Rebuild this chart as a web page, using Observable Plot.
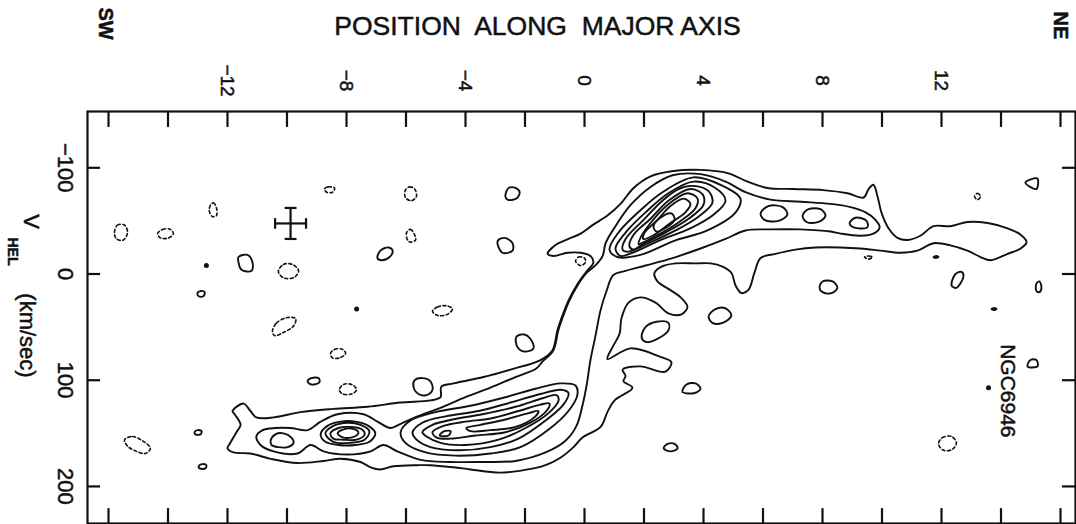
<!DOCTYPE html>
<html><head><meta charset="utf-8">
<script src="https://cdn.jsdelivr.net/npm/d3@7"></script>
<script src="https://cdn.jsdelivr.net/npm/@observablehq/plot@0.6"></script>
<style>
html,body{margin:0;padding:0;background:#fff;}
#chart{width:1076px;height:524px;overflow:hidden}
svg{display:block}
g[aria-label="vel-labels"] text{letter-spacing:2px}
g[aria-label="pos-labels"] text{letter-spacing:1px}
g[aria-label="kms"] text{letter-spacing:4px}
g[aria-label="hel"] text{letter-spacing:2px}
g[aria-label="title"] text{letter-spacing:0.3px}
</style></head><body><div id="chart"></div>
<script>
// ---- axes ----
const positionTicks = [-16,-14,-12,-10,-8,-6,-4,-2,0,2,4,6,8,10,12,14,16];
const positionLabels = [-12,-8,-4,0,4,8,12];
const velocityTicks = [-100,0,100,200];
const posDomain = [-16.706, 16.504];
const velDomain = [-153, 234.9];

// ---- contours: [position along major axis, V_hel km/s] ----
const outerContour = [[-1.24,-19],[-0.94,-28],[-0.54,-33],[-0.13,-38],[0.27,-46],[0.77,-55],[1.21,-66],[1.65,-81],[2.22,-92],[2.99,-97],[3.90,-98],[4.81,-95],[5.48,-87],[6.15,-81],[7.03,-80],[8.03,-79],[8.84,-76],[9.38,-72],[9.55,-80],[9.71,-84],[9.85,-73],[9.98,-58],[10.22,-43],[10.52,-34],[10.86,-32],[11.29,-36],[11.73,-45],[12.30,-45],[12.87,-49],[13.55,-48],[14.22,-43],[14.66,-37],[14.86,-30],[14.66,-24],[14.22,-19],[13.65,-13],[13.31,-16],[12.87,-22],[12.30,-27],[11.73,-29],[11.19,-22],[10.62,-20],[9.95,-22],[9.28,-24],[8.61,-25],[7.76,-25],[7.09,-23],[6.42,-19],[5.92,-15],[5.71,-1],[5.51,15],[5.28,18],[5.08,11],[4.94,-1],[4.64,-7],[4.24,-10],[3.73,-10],[3.06,-10],[2.59,-7],[2.35,-1],[2.45,7],[2.82,14],[3.23,22],[3.46,31],[3.26,38],[2.82,37],[2.39,27],[1.88,22],[1.48,27],[1.24,42],[1.18,56],[0.94,69],[0.77,80],[1.55,70],[2.55,78],[2.92,83],[2.72,92],[1.88,87],[1.28,90],[1.38,96],[1.31,101],[1.61,107],[1.01,119],[0.77,130],[0.54,144],[-0.07,154],[-0.37,163],[-0.81,173],[-1.31,180],[-1.71,183],[-2.82,187],[-3.83,184],[-4.40,182],[-5.18,180],[-5.61,180],[-6.42,181],[-6.86,184],[-7.19,182],[-7.53,177],[-8.20,174],[-8.77,176],[-9.65,178],[-10.55,174],[-11.23,169],[-11.80,168],[-12.00,164],[-11.93,160],[-11.70,149],[-11.56,142],[-11.76,132],[-11.83,129],[-11.46,122],[-11.23,129],[-11.03,135],[-10.45,135],[-9.55,130],[-8.44,127],[-7.29,125],[-6.18,121],[-5.18,119],[-4.84,116],[-4.81,106],[-4.40,103],[-3.39,97],[-2.49,90],[-1.48,81],[-1.08,72],[-0.91,53],[-0.74,39],[-0.54,25],[-0.27,11],[0.03,-1],[0.30,-11],[0.20,-17],[-0.13,-20],[-0.57,-20],[-1.04,-17]];

const level2Contour = [[0.61,-17],[0.71,-29],[1.04,-45],[1.55,-65],[2.22,-82],[2.96,-93],[3.90,-94],[4.74,-87],[5.41,-77],[6.25,-70],[7.26,-68],[8.27,-66],[8.94,-63],[9.45,-58],[9.78,-51],[9.92,-44],[9.71,-38],[9.28,-36],[8.61,-38],[8.27,-40],[7.26,-42],[6.25,-42],[5.41,-41],[4.74,-33],[3.90,-24],[2.96,-15],[2.05,-8],[1.38,-3],[0.97,1],[0.74,16],[0.54,34],[0.37,58],[0.20,81],[0.07,105],[-0.07,124],[-0.27,143],[-0.64,157],[-1.31,168],[-2.32,176],[-3.50,177],[-4.50,177],[-5.51,175],[-6.29,167],[-6.76,161],[-7.19,167],[-7.97,170],[-8.77,167],[-9.21,161],[-9.65,169],[-10.45,167],[-10.89,161],[-11.03,153],[-10.82,147],[-10.39,145],[-9.88,145],[-9.31,147],[-8.87,139],[-8.30,132],[-7.43,132],[-6.96,139],[-6.52,145],[-6.18,141],[-5.61,134],[-4.84,126],[-4.00,116],[-3.16,107],[-2.32,97],[-1.62,89],[-1.40,82],[-1.05,72],[-0.88,53],[-0.71,39],[-0.51,25],[-0.24,11],[0.07,-1],[0.40,-9]];

const upperRing3 = [[3.66,-91],[4.57,-84],[5.24,-71],[5.08,-58],[4.13,-41],[2.99,-31],[1.88,-18],[1.11,-16],[0.84,-23],[1.14,-39],[1.88,-60],[2.62,-77]];
const upperRing4 = [[3.66,-87],[4.40,-81],[4.74,-69],[4.30,-55],[3.56,-43],[2.55,-32],[1.61,-20],[1.21,-17],[1.04,-24],[1.38,-39],[2.05,-58],[2.82,-76]];
const upperRing5 = [[3.63,-83],[4.17,-78],[4.30,-67],[3.83,-54],[3.06,-41],[2.15,-29],[1.45,-21],[1.28,-23],[1.38,-33],[1.95,-50],[2.62,-69],[3.16,-80]];
const upperRing6 = [[3.56,-80],[3.97,-75],[4.00,-65],[3.50,-52],[2.72,-39],[1.95,-28],[1.65,-23],[1.51,-26],[1.65,-37],[2.22,-52],[2.82,-69]];
const upperRing7 = [[3.46,-76],[3.80,-71],[3.73,-62],[3.23,-50],[2.55,-38],[1.92,-29],[1.82,-28],[1.88,-34],[2.22,-48],[2.79,-65]];
const upperRing8 = [[3.33,-71],[3.56,-66],[3.39,-58],[2.89,-48],[2.29,-36],[1.98,-33],[2.02,-39],[2.42,-50],[2.89,-64]];
const upperRing9 = [[2.92,-57],[3.03,-51],[2.76,-44],[2.42,-40],[2.32,-45],[2.55,-53]];

const tailIsland1 = [[5.92,-57],[6.18,-64],[6.66,-63],[6.82,-56],[6.52,-50],[6.05,-51]];
const tailIsland2 = [[7.33,-55],[7.53,-61],[7.93,-61],[8.10,-55],[7.87,-49],[7.46,-49]];
const tailIsland3 = [[8.91,-48],[9.11,-53],[9.48,-50],[9.51,-44],[9.21,-43],[8.97,-45]];

const lowerA3 = [[-10.55,157],[-10.39,151],[-10.12,150],[-9.85,154],[-9.78,159],[-9.98,163],[-10.29,163],[-10.52,161]];
const lowerB3 = [[-8.87,151],[-8.64,143],[-8.20,139],[-7.70,139],[-7.26,143],[-7.03,150],[-7.23,158],[-7.70,161],[-8.27,161],[-8.71,158]];
const lowerB4 = [[-8.71,150],[-8.44,143],[-7.97,140],[-7.53,142],[-7.23,148],[-7.39,156],[-7.90,159],[-8.44,158]];
const lowerB5 = [[-8.54,150],[-8.27,145],[-7.87,144],[-7.50,146],[-7.39,151],[-7.66,156],[-8.10,156],[-8.44,155]];
const lowerB6 = [[-8.30,150],[-8.07,146],[-7.76,146],[-7.60,149],[-7.73,153],[-8.10,154]];
const lowerC3 = [[-6.18,149],[-5.85,138],[-5.01,130],[-3.83,124],[-2.66,116],[-1.65,108],[-0.81,103],[-0.30,105],[-0.24,114],[-0.54,129],[-1.14,145],[-2.15,163],[-3.16,169],[-4.34,171],[-5.34,168],[-6.02,159]];
const lowerC4 = [[-5.78,149],[-5.45,140],[-4.67,134],[-3.56,129],[-2.49,121],[-1.48,113],[-0.81,109],[-0.54,112],[-0.71,123],[-1.31,138],[-2.22,155],[-3.16,163],[-4.24,166],[-5.18,163],[-5.68,155]];
const lowerC5 = [[-5.45,149],[-5.11,142],[-4.44,137],[-3.43,132],[-2.32,125],[-1.41,117],[-0.94,114],[-0.87,119],[-1.21,131],[-1.98,145],[-2.89,156],[-4.00,161],[-4.84,159],[-5.31,153]];
const lowerC6 = [[-5.11,149],[-4.74,143],[-4.00,139],[-3.16,136],[-2.22,129],[-1.48,123],[-1.18,122],[-1.28,129],[-1.82,140],[-2.66,149],[-3.66,152],[-4.50,155],[-4.97,154]];
const lowerC7 = [[-3.97,145],[-3.50,142],[-2.66,137],[-1.88,131],[-1.55,129],[-1.65,134],[-2.32,144],[-3.16,147],[-3.83,148]];
const lowerC8 = [[-4.87,152],[-4.71,148],[-4.50,148],[-4.57,152]];

// isolated solid contours
const solidBits = [
  [[-11.63,-16],[-11.33,-18],[-11.16,-11],[-11.19,-3],[-11.53,-4],[-11.63,-11]],
  [[-6.96,-15],[-6.86,-22],[-6.59,-25],[-6.45,-22],[-6.55,-16],[-6.82,-13]],
  [[-2.92,-31],[-2.69,-34],[-2.42,-29],[-2.42,-22],[-2.76,-20]],
  [[-2.66,-73],[-2.55,-81],[-2.32,-81],[-2.18,-77],[-2.29,-71],[-2.59,-70]],
  [[-13.01,18],[-12.91,16],[-12.77,17],[-12.81,21],[-12.97,21]],
  [[-13.11,149],[-13.01,147],[-12.87,148],[-12.91,151],[-13.08,151]],
  [[-12.97,181],[-12.84,179],[-12.71,180],[-12.74,183],[-12.94,183]],
  [[-9.31,101],[-9.18,98],[-8.94,98],[-8.91,102],[-9.18,104]],
  [[-5.71,100],[-5.45,98],[-5.18,101],[-5.11,109],[-5.31,114],[-5.58,113],[-5.75,106]],
  [[-2.29,59],[-2.02,57],[-1.82,61],[-1.71,70],[-2.02,73],[-2.25,69]],
  [[1.92,60],[2.05,50],[2.42,45],[2.82,46],[2.82,53],[2.45,61],[2.08,64]],
  [[4.17,40],[4.40,33],[4.71,32],[4.94,39],[4.64,46],[4.30,46]],
  [[3.29,111],[3.43,104],[3.73,103],[3.90,108],[3.70,112]],
  [[2.66,164],[2.79,160],[3.03,160],[3.13,164],[2.89,167]],
  [[7.90,13],[8.00,7],[8.34,7],[8.50,13],[8.30,18],[8.00,17]],
  [[12.34,11],[12.47,0],[12.67,-2],[12.74,2],[12.50,13]],
  [[15.19,9],[15.29,7],[15.36,13],[15.29,17],[15.19,16]],
  [[14.82,-86],[15.22,-90],[15.19,-80]],
  [[14.89,87],[14.99,81],[15.19,81],[15.23,87]],
  [[11.73,-16],[11.83,-17],[11.90,-16],[11.80,-15]],
  [[13.68,33],[13.78,32],[13.85,33],[13.75,34]]
];

// negative (dashed) contours
const dashedBits = [
  [[-15.80,-39],[-15.70,-46],[-15.46,-46],[-15.36,-39],[-15.50,-32],[-15.73,-33]],
  [[-14.35,-38],[-14.18,-42],[-13.92,-42],[-13.82,-38],[-13.98,-34],[-14.25,-34]],
  [[-12.57,-65],[-12.47,-67],[-12.37,-62],[-12.37,-55],[-12.50,-54],[-12.61,-59]],
  [[-10.29,-2],[-10.12,-9],[-9.82,-9],[-9.61,-3],[-9.75,3],[-10.08,4]],
  [[-10.49,54],[-10.35,46],[-9.98,41],[-9.71,42],[-9.78,49],[-10.12,55],[-10.42,58]],
  [[-15.46,156],[-15.19,153],[-14.86,157],[-14.59,164],[-14.76,169],[-15.06,167],[-15.36,162]],
  [[-8.74,-80],[-8.61,-82],[-8.40,-81],[-8.47,-77],[-8.67,-77]],
  [[-6.02,-79],[-5.88,-82],[-5.71,-80],[-5.65,-73],[-5.82,-69],[-6.02,-72]],
  [[-5.98,-39],[-5.85,-42],[-5.71,-37],[-5.68,-32],[-5.85,-30],[-5.95,-32]],
  [[-5.11,35],[-4.94,31],[-4.61,30],[-4.44,33],[-4.61,38],[-4.94,39]],
  [[-8.54,75],[-8.40,71],[-8.13,71],[-8.03,75],[-8.24,79],[-8.47,79]],
  [[-8.24,109],[-8.10,104],[-7.83,104],[-7.66,109],[-7.83,113],[-8.13,113]],
  [[-0.30,-12],[-0.20,-16],[0.00,-15],[0.03,-11],[-0.13,-8]],
  [[9.41,-16],[9.55,-17],[9.68,-16],[9.55,-14]],
  [[13.11,-73],[13.21,-76],[13.31,-73],[13.21,-70]],
  [[11.90,160],[12.03,154],[12.34,153],[12.50,159],[12.37,165],[12.07,166]]
];

const filledDots = [[-12.71,-8],[-7.66,33],[13.58,107]];
const errorBar = {pos: -9.88, vel: -47.6, posErr: 0.52, velErr: 14.6};
const annotation = [{pos: 14.22, vel: 110, label: "NGC6946"}];

const solidContours = [outerContour, level2Contour, upperRing3, upperRing4, upperRing5, upperRing6, upperRing7, upperRing8, upperRing9,
  tailIsland1, tailIsland2, tailIsland3, lowerA3, lowerB3, lowerB4, lowerB5, lowerB6,
  lowerC3, lowerC4, lowerC5, lowerC6, lowerC7, lowerC8, ...solidBits];

const toRows = list => list.flatMap((pts, i) => pts.map(([pos, vel]) => ({pos, vel, id: i})));
const solidRows = toRows(solidContours);
const dashedRows = toRows(dashedBits);

const fmt = d => d < 0 ? "\u2212" + Math.abs(d) : String(d);
const font = "Liberation Sans, Arial, Helvetica, sans-serif";
const ink = {fill: "#111", stroke: "#111", strokeWidth: 0.5, textAnchor: "middle", lineAnchor: "middle"};

const capRows = [
  {x1: errorBar.pos - errorBar.posErr, x2: errorBar.pos - errorBar.posErr, y1: errorBar.vel - 5, y2: errorBar.vel + 5},
  {x1: errorBar.pos + errorBar.posErr, x2: errorBar.pos + errorBar.posErr, y1: errorBar.vel - 5, y2: errorBar.vel + 5},
  {x1: errorBar.pos - 0.2, x2: errorBar.pos + 0.2, y1: errorBar.vel - errorBar.velErr, y2: errorBar.vel - errorBar.velErr},
  {x1: errorBar.pos - 0.2, x2: errorBar.pos + 0.2, y1: errorBar.vel + errorBar.velErr, y2: errorBar.vel + errorBar.velErr}
];

const chart = Plot.plot({
  width: 1076, height: 524,
  marginLeft: 87, marginRight: 1, marginTop: 111, marginBottom: 1,
  x: {domain: posDomain, axis: null},
  y: {domain: velDomain, reverse: true, axis: null},
  style: {background: "white", fontFamily: font, color: "black"},
  marks: [
    Plot.frame({stroke: "#111", strokeWidth: 2.2}),
    Plot.ruleX(positionTicks, {x: d => d, y1: velDomain[0], y2: velDomain[0] + 15, stroke: "#111", strokeWidth: 2.2}),
    Plot.ruleX(positionTicks, {x: d => d, y1: velDomain[1] - 14, y2: velDomain[1], stroke: "#111", strokeWidth: 2.2}),
    Plot.ruleY(velocityTicks, {y: d => d, x1: posDomain[0], x2: posDomain[0] + 0.44, stroke: "#111", strokeWidth: 2.2}),
    Plot.ruleY(velocityTicks, {y: d => d, x1: posDomain[1] - 0.44, x2: posDomain[1], stroke: "#111", strokeWidth: 2.2}),
    Plot.line(solidRows, {x: "pos", y: "vel", z: "id", curve: "catmull-rom-closed", stroke: "#111", strokeWidth: 1.9}),
    Plot.line(dashedRows, {x: "pos", y: "vel", z: "id", curve: "catmull-rom-closed", stroke: "#111", strokeWidth: 1.6, strokeDasharray: "3,2.5"}),
    Plot.dot(filledDots, {x: d => d[0], y: d => d[1], r: 2.5, fill: "#111", stroke: null}),
    Plot.link([errorBar], {x1: d => d.pos - d.posErr, x2: d => d.pos + d.posErr, y1: d => d.vel, y2: d => d.vel, stroke: "#111", strokeWidth: 2.2}),
    Plot.link([errorBar], {x1: d => d.pos, x2: d => d.pos, y1: d => d.vel - d.velErr, y2: d => d.vel + d.velErr, stroke: "#111", strokeWidth: 2.2}),
    Plot.link(capRows, {x1: "x1", x2: "x2", y1: "y1", y2: "y2", stroke: "#111", strokeWidth: 2.2}),
    Plot.text(positionLabels, {...ink, x: d => d, text: fmt, frameAnchor: "top", dy: -31, rotate: 90, fontSize: 19, ariaLabel: "pos-labels"}),
    Plot.text(velocityTicks, {...ink, y: d => d, text: fmt, frameAnchor: "left", dx: -22, rotate: 90, fontSize: 22, ariaLabel: "vel-labels"}),
    Plot.text(["POSITION\u00a0 ALONG\u00a0 MAJOR AXIS"], {...ink, text: d => d, frameAnchor: "top-left", dx: 450, dy: -85, fontSize: 26.5, ariaLabel: "title"}),
    Plot.text(["SW"], {...ink, text: d => d, frameAnchor: "top-left", dx: 18, dy: -88, rotate: 90, fontSize: 20, fontWeight: "bold"}),
    Plot.text(["NE"], {...ink, text: d => d, frameAnchor: "top-left", dx: 973, dy: -86, rotate: 90, fontSize: 20, fontWeight: "bold"}),
    Plot.text(["V"], {...ink, text: d => d, frameAnchor: "top-left", dx: -56, dy: 110, rotate: 90, fontSize: 22}),
    Plot.text(["HEL"], {...ink, text: d => d, frameAnchor: "top-left", dx: -75, dy: 140, rotate: 90, fontSize: 14, fontWeight: "bold", ariaLabel: "hel"}),
    Plot.text(["(km/sec)"], {...ink, text: d => d, frameAnchor: "top-left", dx: -60, dy: 224, rotate: 90, fontSize: 22, ariaLabel: "kms"}),
    Plot.text(annotation, {...ink, x: "pos", y: "vel", text: "label", rotate: 90, fontSize: 21, ariaLabel: "ngc"})
  ]
});
document.getElementById("chart").appendChild(chart);
</script>
</body></html>
